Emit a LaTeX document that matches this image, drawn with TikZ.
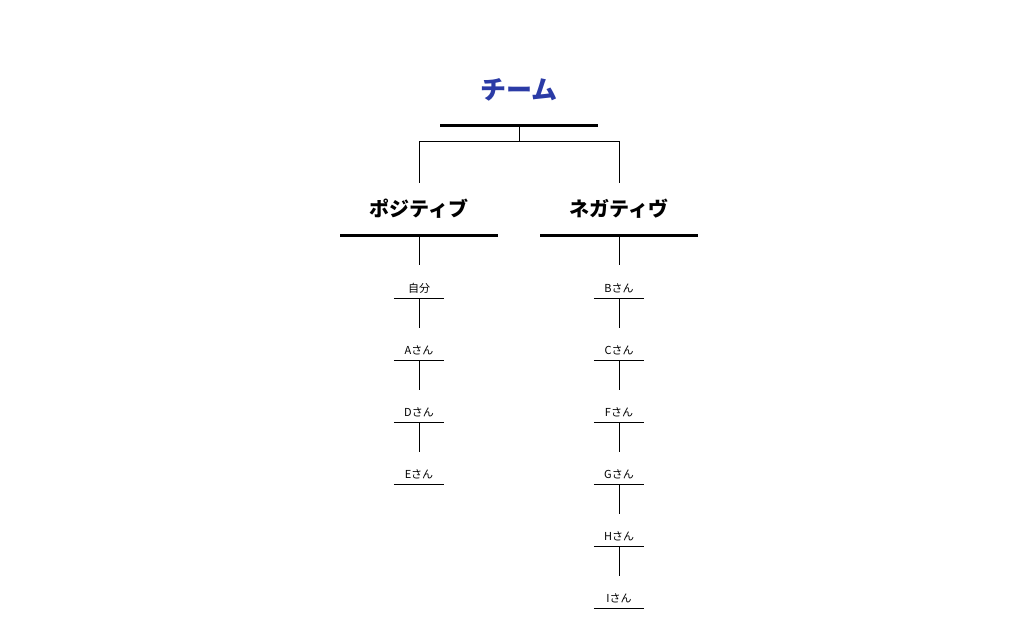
\documentclass[tikz,border=0pt]{standalone}
\usepackage{fontspec}
\setmainfont{Noto Sans CJK JP}
\usetikzlibrary{positioning}
\definecolor{titleblue}{HTML}{2B3BA6}
\tikzset{
	every picture/.style={x=1pt,y=-1pt},
	head/.style={font=\fontsize{20}{22}\selectfont\bfseries,anchor=base},
	bar/.style={line width=3pt},
	member/.style={font=\fontsize{11}{13}\selectfont,minimum width=50pt,inner sep=0pt,minimum height=20pt},
	link/.style={line width=0.7pt}
}
\begin{document}
\begin{tikzpicture}
\useasboundingbox (0,0) rectangle (1024,630);
%タイトル
\node[font=\fontsize{26}{28}\selectfont\bfseries,text=titleblue] (team) at (519,90) {チーム};
\draw[bar] (440,125) -- (598,125);
\coordinate (top) at (519,125);
\coordinate (lp) at (419,183);
\coordinate (rp) at (619,183);
\draw[link] (top) -- ++(0,16) -| (lp);
\draw[link] (top) -- ++(0,16) -| (rp);
%グループ
\node[head] (pos) at (419,216) {ポジティブ};
\node[head] (neg) at (619,216) {ネガティヴ};
\draw[bar] (340,235) -- (498,235);
\draw[bar] (540,235) -- (698,235);
\coordinate (posb) at (419,235);
\coordinate (negb) at (619,235);
%メンバー
\foreach \t [count=\i] in {自分,Aさん,Dさん,Eさん}{
	\node[member] (l\i) at (419,288-62+62*\i) {\t};
	\draw[link] (l\i.south west) -- (l\i.south east);
}
\foreach \t [count=\i] in {Bさん,Cさん,Fさん,Gさん,Hさん,Iさん}{
	\node[member] (r\i) at (619,288-62+62*\i) {\t};
	\draw[link] (r\i.south west) -- (r\i.south east);
}
\draw[link] (posb) -- ++(0,30);
\draw[link] (negb) -- ++(0,30);
\foreach \a/\b in {l1/l2,l2/l3,l3/l4,r1/r2,r2/r3,r3/r4,r4/r5,r5/r6}
	\draw[link] (\a.south) -- ++(0,30);
\end{tikzpicture}
\end{document}
